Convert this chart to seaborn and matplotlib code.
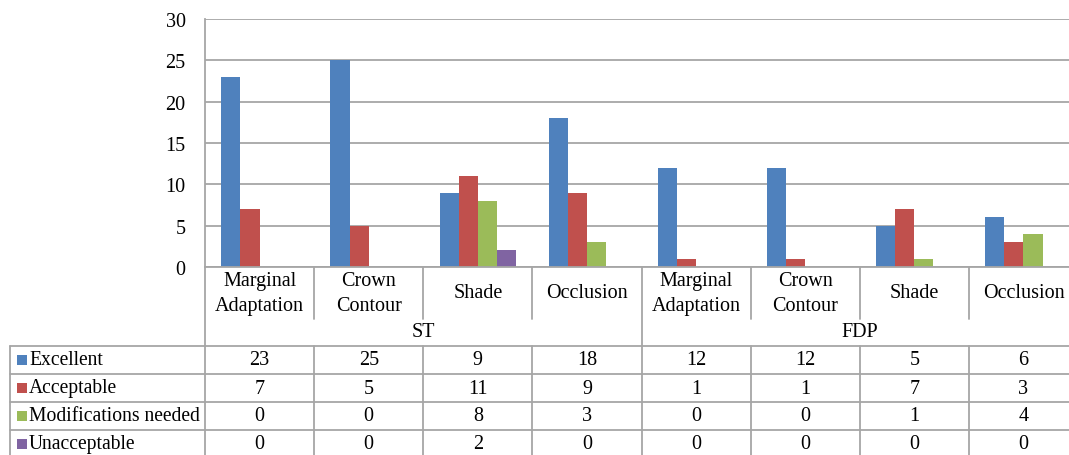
import pandas as pd
import matplotlib
matplotlib.use("Agg")
import matplotlib.pyplot as plt
import seaborn as sns
from matplotlib.transforms import blended_transform_factory
from matplotlib.patches import Rectangle
from matplotlib.lines import Line2D

# --- data -------------------------------------------------------------------
CATEGORIES = ["Marginal\nAdaptation", "Crown\nContour", "Shade", "Occlusion"]
GROUPS = ["ST", "FDP"]
SERIES = ["Excellent", "Acceptable", "Modifications needed", "Unacceptable"]
EXCELLENT = [23, 25, 9, 18, 12, 12, 5, 6]
ACCEPTABLE = [7, 5, 11, 9, 1, 1, 7, 3]
MODIFICATIONS = [0, 0, 8, 3, 0, 0, 1, 4]
UNACCEPTABLE = [0, 0, 2, 0, 0, 0, 0, 0]
COLORS = ["#4F81BD", "#C0504D", "#9BBB59", "#8064A2"]

VALUES = [EXCELLENT, ACCEPTABLE, MODIFICATIONS, UNACCEPTABLE]
keys = [f"{g}|{c}" for g in GROUPS for c in CATEGORIES]
rows = []
for s, vals in zip(SERIES, VALUES):
    for k, v in zip(keys, vals):
        rows.append({"key": k, "series": s, "value": v})
df = pd.DataFrame(rows)

# --- figure -----------------------------------------------------------------
W, H = 1069, 456
sns.set_theme(style="white")
plt.rcParams["font.family"] = ["Liberation Serif", "DejaVu Serif"]
fig = plt.figure(figsize=(W / 100, H / 100), dpi=100)


def fx(px):
    return px / W


def fy(py):
    return 1 - py / H


left_px, right_px, top_px, bot_px = 205, 1078, 20, 268
ax = fig.add_axes([fx(left_px), fy(bot_px), fx(right_px - left_px), (bot_px - top_px) / H])

sns.barplot(data=df, x="key", y="value", hue="series", order=keys, hue_order=SERIES,
            palette=COLORS, width=0.7, saturation=1, linewidth=0, ax=ax, legend=False)

fs = 14.5
ax.set_xlim(-0.5, len(keys) - 0.5)
ax.set_ylim(0, 30)
ax.set_yticks(range(0, 31, 5))
ax.tick_params(axis="y", labelsize=fs, length=0, pad=14, colors="black")
ax.set_xticks([])
ax.set_xlabel("")
ax.set_ylabel("")
ax.yaxis.grid(True, color="#a6a6a6", linewidth=1.3)
ax.set_axisbelow(True)
for side in ["top", "right"]:
    ax.spines[side].set_visible(False)
for side in ["left", "bottom"]:
    ax.spines[side].set_color("#a6a6a6")
    ax.spines[side].set_linewidth(1.3)

# --- data table under the chart ----------------------------------------------
line_c = "#a6a6a6"
trans = blended_transform_factory(ax.transData, fig.transFigure)
row_top = [347, 375, 403, 431, 459]


def hline(y, x0, x1):
    fig.add_artist(Line2D([fx(x0), fx(x1)], [fy(y), fy(y)], color=line_c, lw=1.3))


def vline_data(x, y0, y1):
    fig.add_artist(Line2D([x, x], [fy(y0), fy(y1)], color=line_c, lw=1.3, transform=trans))


for y in row_top:
    hline(y, 10, right_px)
fig.add_artist(Line2D([fx(10), fx(10)], [fy(347), fy(460)], color=line_c, lw=1.3))
vline_data(-0.5, bot_px, 460)

n_cat = len(CATEGORIES)
for i in range(len(keys) - 1):
    b = i + 0.5
    if (i + 1) % n_cat == 0:
        vline_data(b, bot_px, 460)
    else:
        vline_data(b, bot_px, 320)
        vline_data(b, 347, 460)

for i, k in enumerate(keys):
    cat = k.split("|")[1]
    ax.text(i, fy(294), cat, transform=trans, ha="center", va="center",
            fontsize=fs, linespacing=1.45, color="black")
for gi, g in enumerate(GROUPS):
    center = gi * n_cat + (n_cat - 1) / 2
    ax.text(center, fy(333), g, transform=trans, ha="center", va="center",
            fontsize=fs, color="black")

for r, (s, vals, c) in enumerate(zip(SERIES, VALUES, COLORS)):
    yc = (row_top[r] + row_top[r + 1]) / 2
    fig.add_artist(Rectangle((fx(17), fy(yc + 5)), fx(10), 10 / H, color=c, lw=0))
    fig.text(fx(29), fy(yc), s, ha="left", va="center", fontsize=14.1, color="black")
    for i, v in enumerate(vals):
        ax.text(i, fy(yc), str(v), transform=trans, ha="center", va="center",
                fontsize=fs, color="black")

fig.savefig("out.png", dpi=100)
